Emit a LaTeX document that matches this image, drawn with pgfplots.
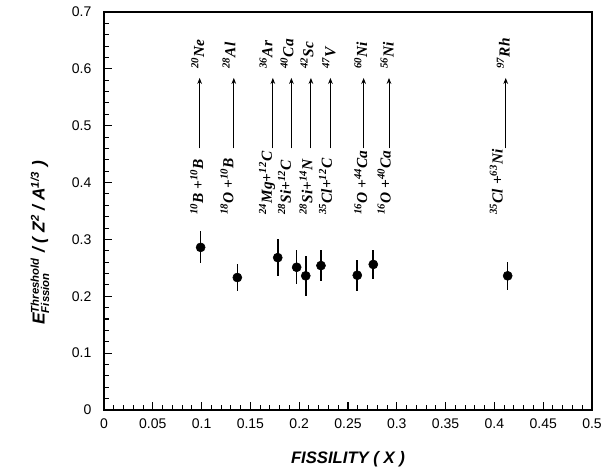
\documentclass[border=0pt]{standalone}
\usepackage{fontspec}
\setmainfont{Liberation Sans}
\newfontfamily\tms{Liberation Serif}
\usepackage{pgfplots}
\pgfplotsset{compat=1.18}
\usetikzlibrary{arrows.meta}

% nucleus label in bold italic serif
\newcommand{\nuc}[2]{\textsuperscript{#1}#2}

\pgfplotstableread{
x       y      err
0.099   0.286  0.028
0.1366  0.233  0.024
0.178   0.268  0.033
0.1974  0.251  0.030
0.2067  0.236  0.035
0.2223  0.254  0.027
0.2595  0.237  0.027
0.2759  0.256  0.026
0.4136  0.236  0.025
}\points

\pgfplotstableread{
x       y      v
0.098   0.460  0.124
0.133   0.460  0.124
0.173   0.460  0.124
0.192   0.460  0.124
0.212   0.460  0.124
0.232   0.460  0.124
0.266   0.460  0.124
0.292   0.460  0.124
0.4116  0.460  0.124
}\arrows

\begin{document}
\begin{tikzpicture}
\begin{axis}[
    scale only axis,
    width=366pt, height=298.5pt,
    xmin=0, xmax=0.5, ymin=0, ymax=0.7,
    xtick={0,0.05,0.1,0.15,0.2,0.25,0.3,0.35,0.4,0.45,0.5},
    xticklabels={0,0.05,0.1,0.15,0.2,0.25,0.3,0.35,0.4,0.45,0.5},
    ytick={0,0.1,0.2,0.3,0.4,0.5,0.6,0.7},
    yticklabels={0,0.1,0.2,0.3,0.4,0.5,0.6,0.7},
    minor x tick num=4, minor y tick num=4,
    xtick pos=bottom, ytick pos=left,
    tick align=inside,
    major tick length=6pt, minor tick length=3.5pt,
    tick style={black, line width=0.8pt},
    axis line style={black, line width=1.1pt},
    tick label style={font=\fontsize{10.5}{12}\selectfont},
    yticklabel style={xshift=-6pt},
    xticklabel style={yshift=-3pt},
    xlabel={\bfseries\itshape FISSILITY ( X )},
    xlabel style={font=\fontsize{12.5}{14}\selectfont, yshift=-10pt},
    ylabel={\bfseries\itshape E$^{\mbox{\bfseries\itshape\fontsize{8.5}{9}\selectfont Threshold}}_{\mbox{\bfseries\itshape\fontsize{8.5}{9}\selectfont Fission}}$ / ( Z$^{\mbox{\bfseries\itshape\fontsize{8.5}{9}\selectfont 2}}$ / A$^{\mbox{\bfseries\itshape\fontsize{8.5}{9}\selectfont 1/3}}$ )},
    ylabel style={font=\fontsize{13}{14}\selectfont, at={(ticklabel cs:0.42)}, yshift=10pt},
    clip=false,
]
\addplot[
    only marks, mark=*, mark size=3.4pt, black,
    error bars/.cd, y dir=both, y explicit,
    error bar style={line width=1.2pt}, error mark=none,
] table[x=x, y=y, y error=err] {\points};

\addplot[
    black, line width=0.7pt,
    quiver={u=0, v=\thisrow{v}},
    -{Stealth[length=4.5pt, width=3.5pt]},
] table[x=x, y=y] {\arrows};

\begin{scope}[every node/.style={font=\tms\bfseries\itshape\fontsize{11.5}{12}\selectfont, rotate=90, anchor=west, inner sep=0pt}]
% compound nuclei
\node at (axis cs:0.096,0.600) {\nuc{20}{Ne}};
\node at (axis cs:0.128,0.600) {\nuc{28}{Al}};
\node at (axis cs:0.166,0.600) {\nuc{36}{Ar}};
\node at (axis cs:0.1875,0.600) {\nuc{40}{Ca}};
\node at (axis cs:0.208,0.600) {\nuc{42}{Sc}};
\node at (axis cs:0.2305,0.600) {\nuc{47}{V}};
\node at (axis cs:0.263,0.600) {\nuc{60}{Ni}};
\node at (axis cs:0.290,0.600) {\nuc{56}{Ni}};
\node at (axis cs:0.409,0.600) {\nuc{97}{Rh}};
% reactions
\node at (axis cs:0.095,0.343) {\nuc{10}{B} +\nuc{10}{B}};
\node at (axis cs:0.126,0.343) {\nuc{18}{O} +\nuc{10}{B}};
\node at (axis cs:0.167,0.343) {\nuc{24}{Mg}+\nuc{12}{C}};
\node at (axis cs:0.185,0.343) {\nuc{28}{Si}+\nuc{12}{C}};
\node at (axis cs:0.207,0.343) {\nuc{28}{Si}+\nuc{14}{N}};
\node at (axis cs:0.227,0.343) {\nuc{35}{Cl}+\nuc{12}{C}};
\node at (axis cs:0.263,0.343) {\nuc{16}{O} +\nuc{44}{Ca}};
\node at (axis cs:0.287,0.343) {\nuc{16}{O} +\nuc{40}{Ca}};
\node at (axis cs:0.402,0.343) {\nuc{35}{Cl} +\nuc{63}{Ni}};
\end{scope}
\end{axis}
\path (current axis.south west) ++(-78pt,-45pt);
\path (current axis.north east) ++(18pt,9pt);
\end{tikzpicture}
\end{document}
